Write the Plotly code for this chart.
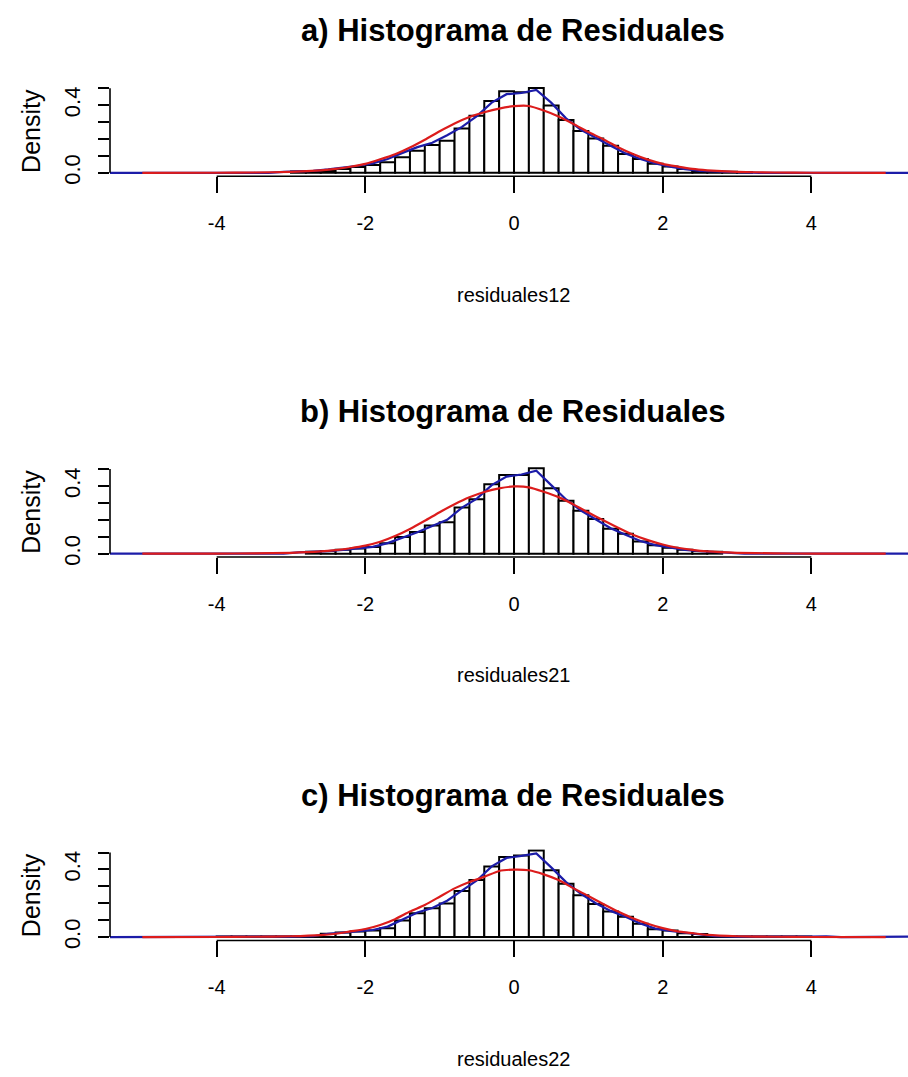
import plotly.graph_objects as go

# ---------------------------------------------------------------
# Data: histogram densities (bin width 0.2), kernel density (blue)
# and fitted normal density (red) for three residual series
# ---------------------------------------------------------------
BIN_WIDTH = 0.2

titles = ["a) Histograma de Residuales",
          "b) Histograma de Residuales",
          "c) Histograma de Residuales"]
xlabels = ["residuales12", "residuales21", "residuales22"]

# left edge of the first bin in each panel
hist_start = [-3.0, -2.8, -4.0]

hist_a = [0.008, 0.010, 0.013, 0.023, 0.034, 0.047, 0.062, 0.092, 0.131, 0.164,
          0.190, 0.262, 0.337, 0.424, 0.482, 0.476, 0.502, 0.398, 0.312, 0.248,
          0.203, 0.160, 0.111, 0.082, 0.053, 0.037, 0.023, 0.011, 0.008, 0.006,
          0.004]
hist_b = [0.011, 0.015, 0.023, 0.030, 0.039, 0.062, 0.098, 0.128, 0.166, 0.186,
          0.273, 0.322, 0.410, 0.465, 0.465, 0.504, 0.387, 0.313, 0.254, 0.205,
          0.147, 0.117, 0.072, 0.049, 0.035, 0.023, 0.015, 0.011]
hist_c = [0.003, 0.003, 0.003, 0.003, 0.003, 0.003, 0.004,
          0.020, 0.027, 0.033, 0.039, 0.053, 0.098, 0.141, 0.170, 0.199,
          0.273, 0.337, 0.418, 0.473, 0.482, 0.512, 0.395, 0.316, 0.248, 0.196,
          0.151, 0.121, 0.079, 0.047, 0.039, 0.023, 0.019,
          0.004, 0.003, 0.003, 0.003, 0.003, 0.003, 0.003]

# kernel density estimates
blue_a_x = [-5.6, -3.3, -3.1, -2.9, -2.7, -2.5, -2.3, -2.1, -1.9, -1.7, -1.5, -1.3,
            -1.1, -0.9, -0.7, -0.5, -0.3, -0.1, 0.1, 0.3, 0.5, 0.7, 0.9, 1.1, 1.3,
            1.5, 1.7, 1.9, 2.1, 2.3, 2.5, 2.7, 2.9, 3.1, 3.3, 5.6]
blue_a_y = [0.0, 0.0, 0.006, 0.009, 0.012, 0.020, 0.030, 0.042, 0.056, 0.082, 0.118,
            0.152, 0.178, 0.222, 0.272, 0.335, 0.415, 0.465, 0.472, 0.490, 0.415,
            0.322, 0.255, 0.205, 0.160, 0.115, 0.082, 0.055, 0.036, 0.022, 0.012,
            0.008, 0.006, 0.004, 0.0, 0.0]

blue_b_x = [-5.6, -3.1, -2.9, -2.7, -2.5, -2.3, -2.1, -1.9, -1.7, -1.5, -1.3, -1.1,
            -0.9, -0.7, -0.5, -0.3, -0.1, 0.1, 0.3, 0.5, 0.7, 0.9, 1.1, 1.3, 1.5,
            1.7, 1.9, 2.1, 2.3, 2.5, 2.7, 2.9, 3.1, 5.6]
blue_b_y = [0.0, 0.0, 0.008, 0.011, 0.015, 0.022, 0.030, 0.040, 0.062, 0.094, 0.126,
            0.164, 0.200, 0.272, 0.325, 0.405, 0.455, 0.468, 0.490, 0.405, 0.320,
            0.255, 0.200, 0.150, 0.112, 0.075, 0.050, 0.034, 0.022, 0.014, 0.010,
            0.006, 0.0, 0.0]

blue_c_x = [-5.6, -5.3, -5.2, -5.05, -4.1, -3.9, -3.0, -2.7, -2.5, -2.3, -2.1, -1.9,
            -1.7, -1.5, -1.3, -1.1, -0.9, -0.7, -0.5, -0.3, -0.1, 0.1, 0.3, 0.5,
            0.7, 0.9, 1.1, 1.3, 1.5, 1.7, 1.9, 2.1, 2.3, 2.5, 2.7, 3.0, 4.0, 4.2,
            4.4, 5.0, 5.15, 5.6]
blue_c_y = [0.0, 0.0, 0.004, 0.0, 0.0, 0.003, 0.003, 0.005, 0.020, 0.027, 0.034,
            0.042, 0.062, 0.105, 0.145, 0.172, 0.215, 0.275, 0.335, 0.418, 0.468,
            0.480, 0.495, 0.412, 0.325, 0.255, 0.200, 0.155, 0.120, 0.080, 0.050,
            0.036, 0.024, 0.016, 0.006, 0.003, 0.003, 0.004, 0.0, 0.0, 0.004, 0.004]

# fitted normal densities
red_x = [-5.0, -4.0, -3.5, -3.0, -2.6, -2.4, -2.2, -2.0, -1.8, -1.6, -1.4, -1.2,
         -1.0, -0.8, -0.6, -0.4, -0.2, 0.0, 0.2, 0.4, 0.6, 0.8, 1.0, 1.2, 1.4,
         1.6, 1.8, 2.0, 2.2, 2.4, 2.6, 3.0, 3.5, 4.0, 5.0]
red_a = [0.0, 0.0005, 0.002, 0.006, 0.015, 0.023, 0.036, 0.053, 0.080, 0.110,
         0.150, 0.196, 0.246, 0.292, 0.330, 0.358, 0.380, 0.394, 0.395, 0.368,
         0.333, 0.289, 0.241, 0.199, 0.151, 0.111, 0.078, 0.053, 0.037, 0.023,
         0.015, 0.006, 0.002, 0.0005, 0.0]
red_b = [0.0, 0.0004, 0.0015, 0.005, 0.013, 0.021, 0.032, 0.047, 0.070, 0.104,
         0.146, 0.194, 0.245, 0.292, 0.333, 0.364, 0.386, 0.397, 0.392, 0.366,
         0.334, 0.291, 0.243, 0.197, 0.153, 0.112, 0.080, 0.054, 0.035, 0.022,
         0.013, 0.005, 0.0015, 0.0004, 0.0]
red_c = [0.0, 0.0006, 0.002, 0.005, 0.012, 0.020, 0.034, 0.048, 0.072, 0.106,
         0.151, 0.190, 0.239, 0.288, 0.326, 0.356, 0.391, 0.399, 0.395, 0.371,
         0.337, 0.288, 0.243, 0.196, 0.151, 0.111, 0.079, 0.053, 0.034, 0.023,
         0.013, 0.005, 0.002, 0.0006, 0.0]

x_ticks = [-4, -2, 0, 2, 4]
x_ticktext = ["-4", "-2", "0", "2", "4"]
y_ticks = [0.0, 0.1, 0.2, 0.3, 0.4, 0.5]
y_ticktext = ["0.0", "", "", "", "0.4", ""]

hists = [hist_a, hist_b, hist_c]
blues = [(blue_a_x, blue_a_y), (blue_b_x, blue_b_y), (blue_c_x, blue_c_y)]
reds = [red_a, red_b, red_c]

# ---------------------------------------------------------------
# Layout geometry (pixels)
# ---------------------------------------------------------------
W, H = 908, 1077
PLOT_LEFT = 110
PANEL_OFFSETS = [0, 384, 770.7]
BASELINE = 174.3          # pixel row of density 0 in the first panel
PX_PER_UNIT = 170.6       # pixels per density unit
Y_RANGE = [-0.02, 0.52]
X_RANGE = [-5.435, 5.30]

FONT = "Liberation Sans, Arial, sans-serif"
BLUE = "#1c1ca8"
RED = "#dc1c1c"


def py(px):
    """pixel row -> paper y"""
    return 1 - px / H


fig = go.Figure()
shapes = []
annotations = []

for i in range(3):
    k = "" if i == 0 else str(i + 1)
    xa, ya = "x" + k, "y" + k
    off = PANEL_OFFSETS[i]
    base = BASELINE + off
    bottom = base - Y_RANGE[0] * PX_PER_UNIT
    top = base - Y_RANGE[1] * PX_PER_UNIT

    heights = hists[i]
    centers = [hist_start[i] + BIN_WIDTH * (j + 0.5) for j in range(len(heights))]

    fig.add_trace(go.Bar(
        x=centers, y=heights, width=BIN_WIDTH,
        marker=dict(color="white", line=dict(color="black", width=2)),
        xaxis=xa, yaxis=ya, hoverinfo="skip"))

    bx, by = blues[i]
    fig.add_trace(go.Scatter(
        x=bx, y=by, mode="lines", line=dict(color=BLUE, width=2.2),
        xaxis=xa, yaxis=ya, hoverinfo="skip"))

    fig.add_trace(go.Scatter(
        x=red_x, y=reds[i], mode="lines",
        line=dict(color=RED, width=2.2, shape="spline", smoothing=0.6),
        xaxis=xa, yaxis=ya, hoverinfo="skip"))

    fig.update_layout(**{
        "xaxis" + k: dict(
            domain=[PLOT_LEFT / W, 1], range=X_RANGE, anchor=ya,
            tickvals=x_ticks, ticktext=x_ticktext,
            ticks="outside", ticklen=16, tickwidth=1.6, tickcolor="black",
            ticklabelstandoff=13,
            showline=False, showgrid=False, zeroline=False,
            tickfont=dict(family=FONT, size=20, color="black")),
        "yaxis" + k: dict(
            domain=[py(bottom), py(top)], range=Y_RANGE, anchor=xa,
            tickvals=y_ticks, ticktext=y_ticktext, tickangle=-90,
            ticks="outside", ticklen=11, tickwidth=1.6, tickcolor="black",
            ticklabelstandoff=9,
            showline=False, showgrid=False, zeroline=False,
            tickfont=dict(family=FONT, size=22, color="black")),
    })

    # axis lines spanning only the tick range
    shapes.append(dict(type="line", xref=xa, yref=ya + " domain",
                       x0=-4, x1=4, y0=0, y1=0,
                       line=dict(color="black", width=1.6)))
    shapes.append(dict(type="line", xref=xa + " domain", yref=ya,
                       x0=0, x1=0, y0=0, y1=0.5,
                       line=dict(color="black", width=1.6)))

    annotations.append(dict(
        text="<b>" + titles[i] + "</b>", xref="paper", yref="paper",
        x=513 / W, y=py(31 + off), xanchor="center", yanchor="middle",
        showarrow=False, font=dict(family=FONT, size=31, color="black")))
    annotations.append(dict(
        text=xlabels[i], xref="paper", yref="paper",
        x=513 / W, y=py(297 + off), xanchor="center", yanchor="middle",
        showarrow=False, font=dict(family=FONT, size=20, color="black")))
    annotations.append(dict(
        text="Density", xref="paper", yref="paper", textangle=-90,
        x=31 / W, y=py(132 + off), xanchor="center", yanchor="middle",
        showarrow=False, font=dict(family=FONT, size=25, color="black")))

fig.update_layout(
    width=W, height=H,
    margin=dict(l=0, r=0, t=0, b=0),
    paper_bgcolor="white", plot_bgcolor="white",
    showlegend=False, barmode="overlay",
    shapes=shapes, annotations=annotations)

fig.write_html("out.html")
